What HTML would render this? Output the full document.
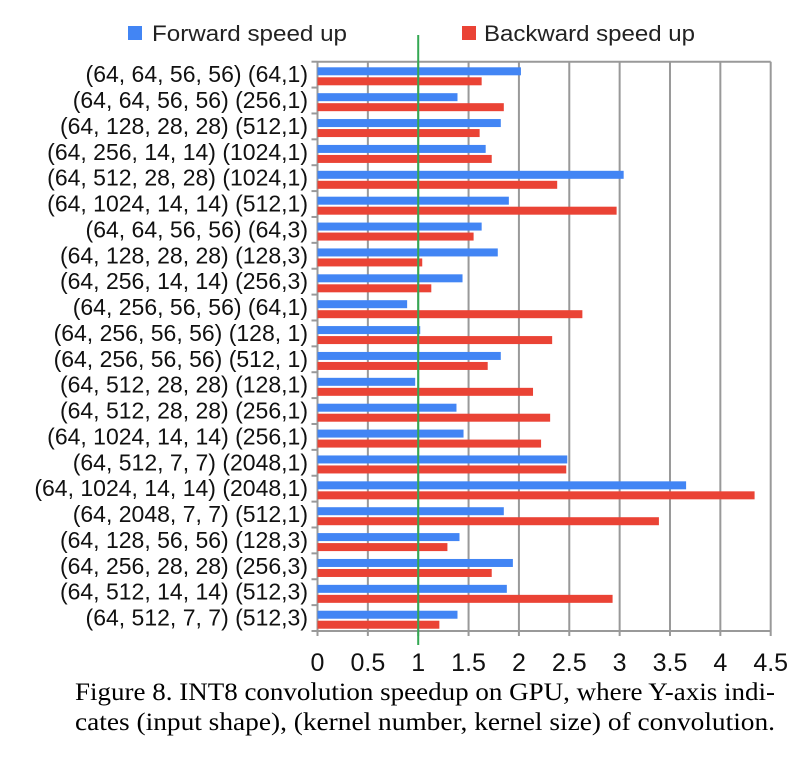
<!DOCTYPE html>
<html><head><meta charset="utf-8"><style>
body{margin:0;background:#fff;}
svg{display:block;}
</style></head><body>
<svg id="chart" width="798" height="762" xmlns="http://www.w3.org/2000/svg">
<g>
<rect x="128" y="26" width="14" height="14" fill="#4285f4"/>
<text x="152" y="41" font-family="Liberation Sans, sans-serif" font-size="22" fill="#222" textLength="195" lengthAdjust="spacingAndGlyphs">Forward speed up</text>
<rect x="462" y="26" width="14" height="14" fill="#ea4335"/>
<text x="484" y="41" font-family="Liberation Sans, sans-serif" font-size="22" fill="#222" textLength="211" lengthAdjust="spacingAndGlyphs">Backward speed up</text>
</g>
<g id="grid"></g>
<g id="bars"></g>
<g id="labels"></g>
<text x="75" y="700" font-family="Liberation Serif, serif" font-size="25" fill="#000" textLength="700" lengthAdjust="spacingAndGlyphs">Figure 8. INT8 convolution speedup on GPU, where Y-axis indi-</text>
<text x="75" y="730" font-family="Liberation Serif, serif" font-size="25" fill="#000" textLength="700" lengthAdjust="spacingAndGlyphs">cates (input shape), (kernel number, kernel size) of convolution.</text>
</svg>
<script>
const categories=["(64, 64, 56, 56) (64,1)","(64, 64, 56, 56) (256,1)","(64, 128, 28, 28) (512,1)","(64, 256, 14, 14) (1024,1)","(64, 512, 28, 28) (1024,1)","(64, 1024, 14, 14) (512,1)","(64, 64, 56, 56) (64,3)","(64, 128, 28, 28) (128,3)","(64, 256, 14, 14) (256,3)","(64, 256, 56, 56) (64,1)","(64, 256, 56, 56) (128, 1)","(64, 256, 56, 56) (512, 1)","(64, 512, 28, 28) (128,1)","(64, 512, 28, 28) (256,1)","(64, 1024, 14, 14) (256,1)","(64, 512, 7, 7) (2048,1)","(64, 1024, 14, 14) (2048,1)","(64, 2048, 7, 7) (512,1)","(64, 128, 56, 56) (128,3)","(64, 256, 28, 28) (256,3)","(64, 512, 14, 14) (512,3)","(64, 512, 7, 7) (512,3)"];
const forwardSpeedup=[2.02,1.39,1.82,1.67,3.04,1.90,1.63,1.79,1.44,0.89,1.02,1.82,0.97,1.38,1.45,2.48,3.66,1.85,1.41,1.94,1.88,1.39];
const backwardSpeedup=[1.63,1.85,1.61,1.73,2.38,2.97,1.55,1.04,1.13,2.63,2.33,1.69,2.14,2.31,2.22,2.47,4.34,3.39,1.29,1.73,2.93,1.21];
const xTicks=[0,0.5,1,1.5,2,2.5,3,3.5,4,4.5];
const tickLabels=["0","0.5","1","1.5","2","2.5","3","3.5","4","4.5"];
const baseline=1;

const NS="http://www.w3.org/2000/svg";
const X0=317.5,X1=770.7,Y0=61.7,Y1=631,XMAX=4.5;
const xs=v=>X0+(X1-X0)*v/XMAX;
const band=(Y1-Y0)/categories.length;
const ys=i=>Y0+band*i;
function mk(tag,attrs,parent){const e=document.createElementNS(NS,tag);for(const k in attrs)e.setAttribute(k,attrs[k]);parent.appendChild(e);return e;}
const gridG=document.getElementById('grid'),barsG=document.getElementById('bars'),labelsG=document.getElementById('labels');
xTicks.forEach((t,i)=>{
  const g=mk('line',{x1:xs(t),x2:xs(t),y1:Y0,y2:Y1+5,stroke:'#999','stroke-width':2},gridG);
  
  
  const tl=mk('text',{x:xs(t),y:671,'text-anchor':'middle','font-family':'Liberation Sans, sans-serif','font-size':25,fill:'#111'},labelsG);
  tl.textContent=tickLabels[i];
  
  
});
const topBorder=mk('line',{x1:X0,x2:X1,y1:Y0,y2:Y0,stroke:'#999','stroke-width':2},gridG);


const axisLine=mk('line',{x1:X0-2,x2:X1,y1:Y1,y2:Y1,stroke:'#999','stroke-width':2},gridG);


for(let i=0;i<=categories.length;i++){
  const tk=mk('line',{x1:X0-6,x2:X0,y1:ys(i),y2:ys(i),stroke:'#999','stroke-width':2},gridG);
  
  
}
categories.forEach((c,i)=>{
  const b=mk('rect',{x:X0,y:ys(i)+5.6,width:xs(forwardSpeedup[i])-X0,height:8,fill:'#4285f4'},barsG);
  
  
  const r=mk('rect',{x:X0,y:ys(i)+15.6,width:xs(backwardSpeedup[i])-X0,height:8,fill:'#ea4335'},barsG);
  
  
  const l=mk('text',{x:308,y:ys(i)+band/2+7.5,'text-anchor':'end','font-family':'Liberation Sans, sans-serif','font-size':23,fill:'#111'},labelsG);
  l.textContent=c;
  
  
});
const gl=mk('line',{x1:xs(baseline),x2:xs(baseline),y1:35,y2:645,stroke:'#34a853','stroke-width':2},barsG);


</script>
</body></html>
